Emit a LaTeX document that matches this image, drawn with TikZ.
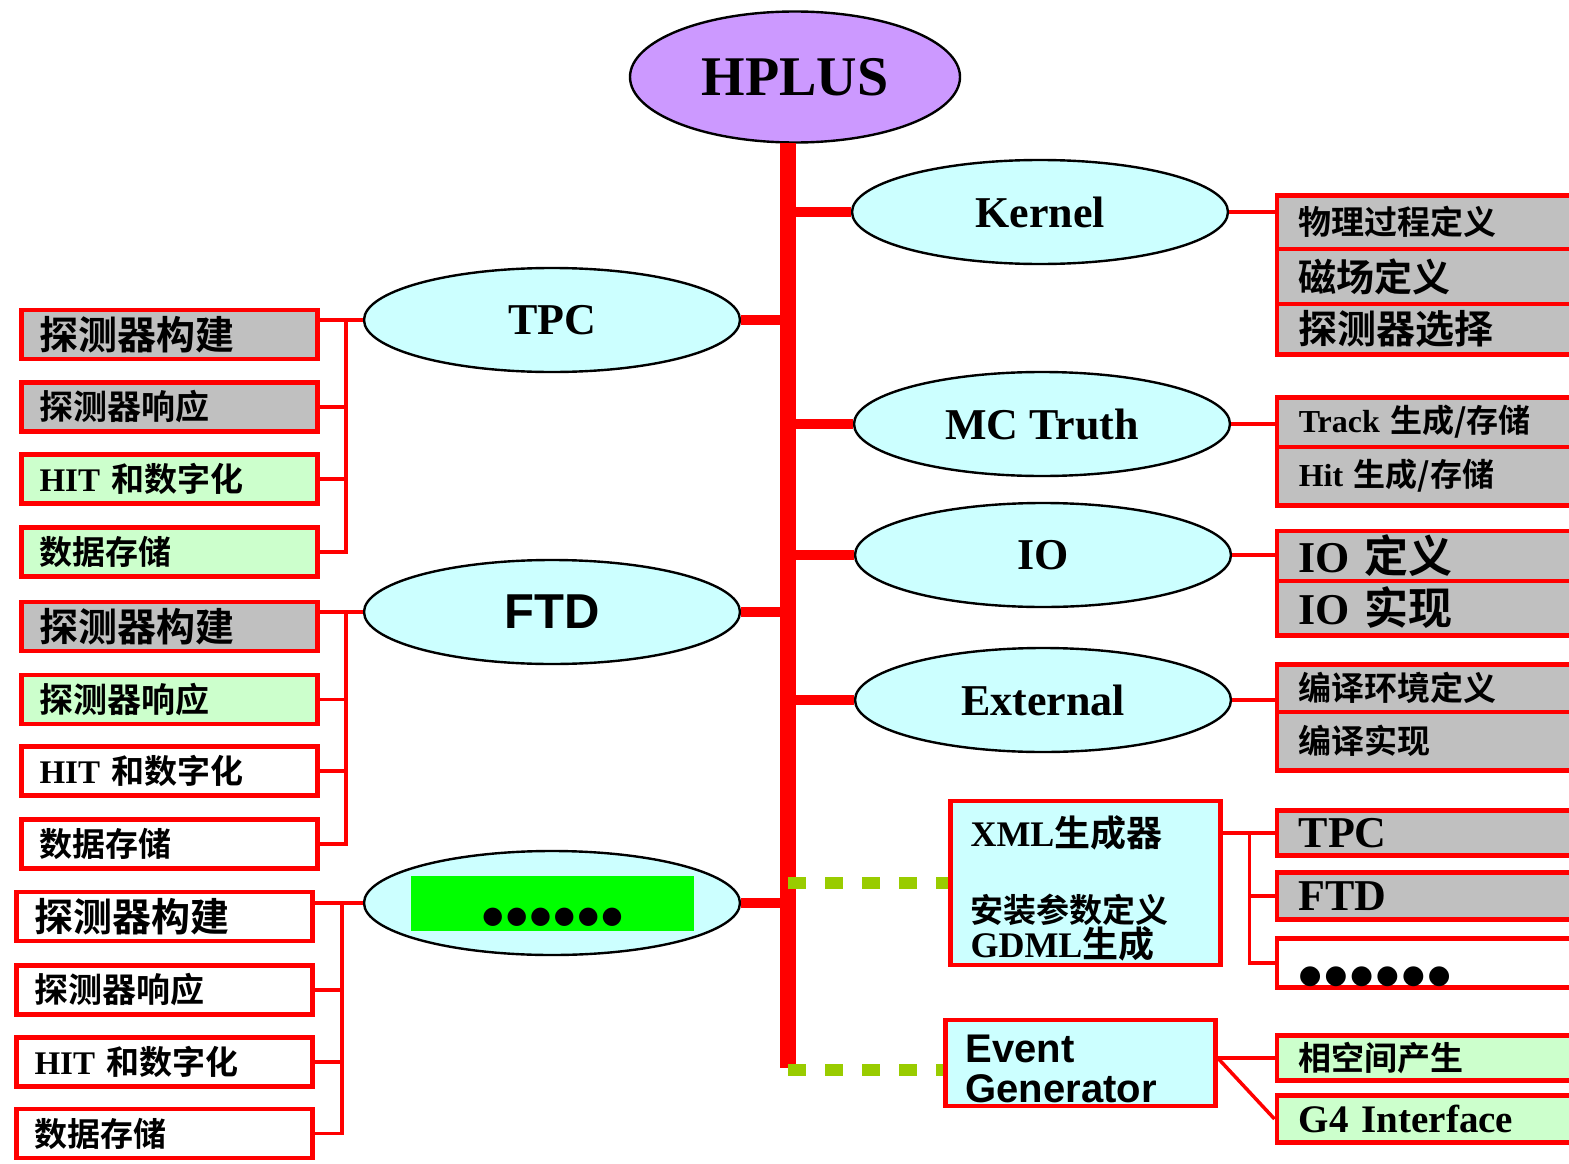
\documentclass[tikz,border=0pt]{standalone}
\usepackage{fontspec}
\setmainfont{Liberation Serif}
\newfontfamily\cjk[BoldFont={Noto Sans CJK SC Bold}]{Noto Sans CJK SC}
\newfontfamily\arial{Liberation Sans}
\newfontfamily\dotfont[LetterSpace=12]{DejaVu Sans}
\usetikzlibrary{shapes.geometric,positioning}
\newcommand{\zh}[1]{{\cjk #1}}
\definecolor{boxgray}{HTML}{C0C0C0}
\definecolor{boxgreen}{HTML}{CCFFCC}
\definecolor{ellcyan}{HTML}{CCFFFF}
\definecolor{hpurple}{HTML}{CC99FF}
\definecolor{dashgreen}{HTML}{99CC00}
\definecolor{bargreen}{HTML}{00FF00}
\tikzset{
  mod/.style={ellipse, draw=black, line width=2.4pt, fill=ellcyan, inner sep=0pt,
    minimum width=376pt, minimum height=104pt, font=\bfseries\fontsize{44}{48}\selectfont},
  lbox/.style={draw=red, line width=4.5pt, text width=260pt, inner xsep=18pt, inner ysep=0pt,
    minimum height=49pt, align=left, font=\bfseries\fontsize{33}{36}\selectfont},
  rbox/.style={lbox, text width=284pt, inner xsep=22pt, anchor=west},
  bigtxt/.style={font=\bfseries\fontsize{39}{42}\selectfont},
  midtxt/.style={font=\bfseries\fontsize{34}{37}\selectfont},
  trunk/.style={draw=red, line width=16pt},
  twig/.style={draw=red, line width=10pt},
  wire/.style={draw=red, line width=3.5pt},
  dashlink/.style={draw=dashgreen, line width=12pt, dash pattern=on 18pt off 19pt}
}
\begin{document}
\begin{tikzpicture}[x=1pt,y=-1pt]
\useasboundingbox (0,0) rectangle (1569,1164);

% main modules
\node[mod, fill=hpurple, minimum width=330pt, minimum height=131pt,
  font=\bfseries\fontsize{56}{60}\selectfont] (hplus) at (795,77) {HPLUS};
\node[mod] (kernel) at (1040,212) {Kernel};
\node[mod] (tpc) at (552,320) {TPC};
\node[mod] (mctruth) at (1042,424) {MC Truth};
\node[mod] (io) at (1043,555) {IO};
\node[mod, font=\arial\bfseries\fontsize{49}{52}\selectfont] (ftd) at (552,612) {FTD};
\node[mod] (external) at (1043,700) {External};
\node[mod] (others) at (552,903) {};
\node[fill=bargreen, minimum width=283pt, minimum height=55pt, inner sep=0pt,
  text height=40pt, text depth=0pt, font=\dotfont\fontsize{24}{24}\selectfont]
  (othersbar) at (552.5,903.5) {●●●●●●};

% trunk and branches
\coordinate (top) at (788,143);
\coordinate (bottom) at (788,1068);
\draw[trunk] (top) -- (bottom);
\draw[twig] (kernel.west) -- (kernel.west -| top);
\draw[twig] (mctruth.west) -- (mctruth.west -| top);
\draw[twig] (io.west) -- (io.west -| top);
\draw[twig] (external.west) -- (external.west -| top);
\draw[twig] (tpc.east) -- (tpc.east -| top);
\draw[twig] (ftd.east) -- (ftd.east -| top);
\draw[twig] (others.east) -- (others.east -| top);

% TPC parts
\node[lbox, fill=boxgray, bigtxt] (t1) at (169.5,334.5) {\zh{探测器构建}};
\node[lbox, fill=boxgray, midtxt] (t2) at (169.5,407) {\zh{探测器响应}};
\node[lbox, fill=boxgreen] (t3) at (169.5,479) {HIT \zh{和数字化}};
\node[lbox, fill=boxgreen] (t4) at (169.5,552) {\zh{数据存储}};
\coordinate (tpcfork) at (346,320);
\draw[wire] (tpc.west) -- (tpc.west -| t1.east);
\draw[wire] (tpcfork) |- (t2.east);
\draw[wire] (tpcfork) |- (t3.east);
\draw[wire] (tpcfork) |- (t4.east);

% FTD parts
\node[lbox, fill=boxgray, bigtxt] (f1) at (169.5,626.5) {\zh{探测器构建}};
\node[lbox, fill=boxgreen, midtxt] (f2) at (169.5,699.5) {\zh{探测器响应}};
\node[lbox, fill=white] (f3) at (169.5,771) {HIT \zh{和数字化}};
\node[lbox, fill=white] (f4) at (169.5,844) {\zh{数据存储}};
\coordinate (ftdfork) at (346,612);
\draw[wire] (ftd.west) -- (ftd.west -| f1.east);
\draw[wire] (ftdfork) |- (f2.east);
\draw[wire] (ftdfork) |- (f3.east);
\draw[wire] (ftdfork) |- (f4.east);

% other detector parts
\node[lbox, fill=white, bigtxt] (o1) at (164.5,916.5) {\zh{探测器构建}};
\node[lbox, fill=white, midtxt] (o2) at (164.5,990) {\zh{探测器响应}};
\node[lbox, fill=white] (o3) at (164.5,1062) {HIT \zh{和数字化}};
\node[lbox, fill=white] (o4) at (164.5,1133.5) {\zh{数据存储}};
\coordinate (othersfork) at (342,903);
\draw[wire] (others.west) -- (others.west -| o1.east);
\draw[wire] (othersfork) |- (o2.east);
\draw[wire] (othersfork) |- (o3.east);
\draw[wire] (othersfork) |- (o4.east);

% Kernel parts
\node[rbox, fill=boxgray, minimum height=53.5pt] (k1) at (1274.5,222) {\zh{物理过程定义}};
\node[rbox, fill=boxgray, minimum height=55pt, font=\bfseries\fontsize{38}{41}\selectfont] (k2) at (1274.5,276.5) {\zh{磁场定义}};
\node[rbox, fill=boxgray, minimum height=50.5pt, bigtxt] (k3) at (1274.5,329) {\zh{探测器选择}};
\draw[wire] (kernel.east) -- (kernel.east -| k1.west);

% MC Truth parts
\node[rbox, fill=boxgray, minimum height=49.5pt, font=\bfseries\fontsize{32}{35}\selectfont] (m1) at (1274.5,422) {Track \zh{生成/存储}};
\node[rbox, fill=boxgray, minimum height=58.5pt, font=\bfseries\fontsize{32}{35}\selectfont] (m2) at (1274.5,476) {Hit \zh{生成/存储}};
\draw[wire] (mctruth.east) -- (mctruth.east -| m1.west);

% IO parts
\node[rbox, fill=boxgray, minimum height=50.5pt, font=\bfseries\fontsize{44}{46}\selectfont] (i1) at (1274.5,556) {IO \zh{定义}};
\node[rbox, fill=boxgray, minimum height=54.5pt, font=\bfseries\fontsize{44}{46}\selectfont] (i2) at (1274.5,608) {IO \zh{实现}};
\draw[wire] (io.east) -- (io.east -| i1.west);

% External parts
\node[rbox, fill=boxgray, minimum height=47.5pt] (e1) at (1274.5,688) {\zh{编译环境定义}};
\node[rbox, fill=boxgray, minimum height=58.5pt] (e2) at (1274.5,741) {\zh{编译实现}};
\draw[wire] (external.east) -- (external.east -| e1.west);

% XML generator
\node[draw=red, line width=4.5pt, fill=ellcyan, minimum width=270pt, minimum height=155pt,
  text width=230pt, inner xsep=20pt, align=left, font=\bfseries\fontsize{36}{32}\selectfont]
  (xml) at (1085.5,883) {\rule{0pt}{42pt}XML\zh{生成器}\\[43pt]{\fontsize{33}{32}\selectfont\zh{安装参数定义}}\\GDML\zh{生成}};
\node[rbox, fill=boxgray, minimum height=45pt, font=\bfseries\fontsize{44}{46}\selectfont] (x1) at (1274.5,833) {TPC};
\node[rbox, fill=boxgray, minimum height=47pt, font=\bfseries\fontsize{44}{46}\selectfont] (x2) at (1274.5,896) {FTD};
\node[rbox, fill=white, minimum height=49pt, text height=40pt, text depth=0pt,
  font=\dotfont\fontsize{26}{26}\selectfont] (x3) at (1274.5,963) {●●●●●●};
\coordinate (xmlfork) at ([xshift=-25pt]x1.west);
\draw[wire] (x1.west) -- (x1.west -| xml.east);
\draw[wire] (xmlfork) |- (x2.west);
\draw[wire] (xmlfork) |- (x3.west);

% event generator
\node[draw=red, line width=4.5pt, fill=ellcyan, minimum width=270pt, minimum height=85pt,
  text width=230pt, inner xsep=20pt, align=left, font=\arial\bfseries\fontsize{40}{40}\selectfont]
  (eg) at (1080.5,1063) {\rule{0pt}{39pt}Event\\Generator};
\node[rbox, fill=boxgreen, minimum height=45pt] (g1) at (1274.5,1058) {\zh{相空间产生}};
\node[rbox, fill=boxgreen, minimum height=47pt, bigtxt] (g2) at (1274.5,1119) {G4 Interface};
\coordinate (egjoint) at (eg.east |- g1.west);
\draw[wire] (egjoint) -- (g1.west);
\draw[wire] (egjoint) -- (g2.west);

% dashed links
\coordinate (eglink) at ([yshift=-7pt]eg.west);
\draw[dashlink] (xml.west -| top) -- (xml.west);
\draw[dashlink] (eglink -| top) -- (eglink);
\end{tikzpicture}
\end{document}
